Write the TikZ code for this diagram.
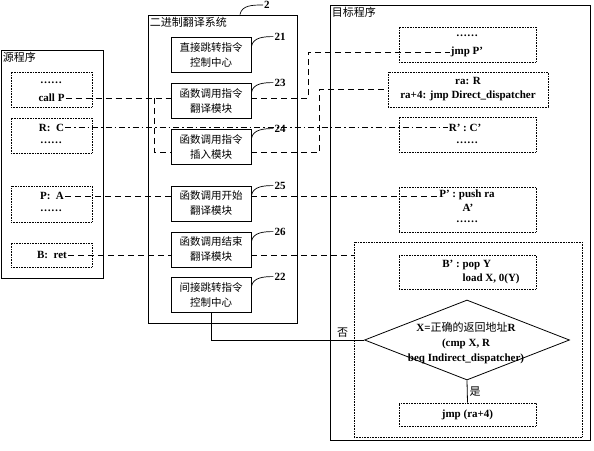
\documentclass[tikz,border=0pt]{standalone}
\usepackage{fontspec}
\setmainfont{Liberation Serif}
\newfontfamily\cjk{Noto Sans CJK SC}
\usetikzlibrary{shapes.geometric,positioning}

\begin{document}
\begin{tikzpicture}[x=1pt,y=-1pt]

		% Define styles
		\tikzstyle{frame} = [rectangle, draw=black, line width=0.9pt]
		\tikzstyle{module} = [
		rectangle, minimum width=80pt, minimum height=35pt,
		draw=black, line width=0.8pt, align=center,
		font=\cjk\fontsize{10.5}{15}\selectfont]
		\tikzstyle{codebox} = [
		rectangle, draw=black, densely dotted, line width=0.6pt,
		minimum width=137pt]
		\tikzstyle{code} = [inner sep=1pt, align=center, font=\fontsize{11}{14}\selectfont\bfseries]
		\tikzstyle{boxtitle} = [anchor=north west, inner sep=2pt, font=\cjk\fontsize{11}{13}\selectfont]
		\tikzstyle{num} = [inner sep=1pt, font=\fontsize{11}{13}\selectfont\bfseries]
		\tikzstyle{leader} = [line width=0.7pt]
		\tikzstyle{link} = [line width=0.7pt, dash pattern=on 6pt off 4pt]
		\tikzstyle{link2} = [line width=0.7pt, dash pattern=on 6pt off 3pt on 1.5pt off 3pt]
		\tikzstyle{decision} = [
		diamond, draw=black, line width=0.8pt,
		minimum width=205pt, minimum height=80pt, inner sep=0pt]

		\useasboundingbox (0,0) rectangle (594,450);

		% Source program
		\node (src) [frame, minimum width=102pt, minimum height=228pt] at (52,164) {};
		\node (srcT) [boxtitle] at (src.north west) {源程序};

		\node (s1) [codebox, minimum width=81pt, minimum height=35pt] at (51.5,89.5) {};
		\node (dots1) [code] at (51,83) {……};
		\node (callP) [code] at (51.5,98) {call P};

		\node (s2) [codebox, minimum width=81pt, minimum height=35pt] at (51.5,135.5) {};
		\node (RC) [code] at (51.5,127.5) {R:\ \ C};
		\node (dots2) [code] at (51,143) {……};

		\node (s3) [codebox, minimum width=81pt, minimum height=36pt] at (51.5,204) {};
		\node (PA) [code] at (52,196) {P:\ \ A};
		\node (dots3) [code] at (51,211) {……};

		\node (s4) [codebox, minimum width=81pt, minimum height=24pt] at (51.5,255) {};
		\node (Bret) [code] at (52,255) {B:\ \ ret};

		% Binary translation system
		\node (sys) [frame, minimum width=149pt, minimum height=308pt] at (222.5,169) {};
		\node (sysT) [boxtitle] at (sys.north west) {二进制翻译系统};

		\node (m21) [module] at (211,54.5) {直接跳转指令\\控制中心};
		\node (m23) [module, below of=m21, node distance=46pt] {函数调用指令\\翻译模块};
		\node (m24) [module, below of=m23, node distance=46pt] {函数调用指令\\插入模块};
		\node (m25) [module, below of=m24, node distance=57pt] {函数调用开始\\翻译模块};
		\node (m26) [module, below of=m25, node distance=46pt] {函数调用结束\\翻译模块};
		\node (m22) [module, below of=m26, node distance=45pt] {间接跳转指令\\控制中心};

		\node (n2) [num, anchor=west] at (263,5) {2};
		\node (n21) [num, right=22pt of m21.north east] {21};
		\node (n23) [num, right=22pt of m23.north east] {23};
		\node (n24) [num, right=22pt of m24.north east] {24};
		\node (n25) [num, right=22pt of m25.north east] {25};
		\node (n26) [num, right=22pt of m26.north east] {26};
		\node (n22) [num, right=22pt of m22.north east] {22};

		% Target program
		\node (tgt) [frame, minimum width=260pt, minimum height=435pt] at (460,222.5) {};
		\node (tgtT) [boxtitle] at (tgt.north west) {目标程序};

		\node (t1) [codebox, minimum height=35pt] at (467.5,44.5) {};
		\node (dots4) [code] at (467,36) {……};
		\node (jmpP) [code] at (467,52) {jmp P’};

		\node (t2) [codebox, code, minimum width=160pt, minimum height=35pt] at (468,89.5) {
			ra: R\\
			ra+4: jmp Direct\_dispatcher
		};

		\node (t3) [codebox, minimum height=35pt] at (467.5,134.5) {};
		\node (RCp) [code] at (465,127.5) {R’\ :\ C’};
		\node (dots5) [code] at (467,143) {……};

		\node (t4) [codebox, minimum height=45pt] at (467.5,209.5) {};
		\node (Pp) [code] at (467,195) {P’\ :\ push ra};
		\node (Ap) [code] at (468,208) {A’};
		\node (dots6) [code] at (467,222) {……};

		\node (t5) [codebox, minimum width=228pt, minimum height=195pt] at (468,339.5) {};

		\node (t6) [codebox, minimum height=34pt] at (467.5,272) {};
		\node (Bp) [code, align=left] at (481,272) {B’\ :\ pop Y\\\phantom{B’\ :\ }load X, 0(Y)};

		\node (dec) [decision] at (467,340) {};
		\node (cond) [code, font=\fontsize{11}{15}\selectfont\bfseries] at (466,343) {
			X={\cjk\mdseries 正确的返回地址}R\\
			(cmp X, R\\
			beq Indirect\_dispatcher)
		};

		\node (t7) [codebox, code, minimum height=23pt] at (467.5,414.5) {jmp (ra+4)};

		% Leaders
		\draw [leader] ([xshift=17.5pt]sys.north) to[out=80,in=180] (n2.west);
		\draw [leader] ([yshift=8pt]m21.east) to[out=80,in=180] (n21.west);
		\draw [leader] ([yshift=8pt]m23.east) to[out=80,in=180] (n23.west);
		\draw [leader] ([yshift=8pt]m24.east) to[out=80,in=180] (n24.west);
		\draw [leader] ([yshift=8pt]m25.east) to[out=80,in=180] (n25.west);
		\draw [leader] ([yshift=8pt]m26.east) to[out=80,in=180] (n26.west);
		\draw [leader] ([yshift=8pt]m22.east) to[out=80,in=180] (n22.west);

		% Connectors
		\path (callP.east -| sys.west) ++(7,0) coordinate (brk);
		\draw [link] (callP.east) -- (callP.east -| m23.west);
		\draw [link] (brk) |- ([yshift=-6pt]m24.west);
		\draw [link] (callP.east -| m23.east) -- ++(57,0) |- (jmpP.west);
		\draw [link] ([yshift=-6pt]m24.east) -- ++(68,0) |- (t2.west);
		\draw [link2] (RC.east) -- (RC.east -| RCp.west);
		\draw [link] (PA.east) -- (PA.east -| m25.west);
		\draw [link] (PA.east -| m25.east) -- (PA.east -| Pp.west);
		\draw [link] (Bret.east) -- (Bret.east -| m26.west);
		\draw [link] (Bret.east -| m26.east) -- (Bret.east -| t5.west);

		\draw [line width=0.8pt] (m22.south) |- node[pos=0.93, above, inner sep=2pt, font=\cjk\fontsize{11}{13}\selectfont] {否} (dec.west);
		\draw [line width=0.8pt] (dec.south) -- node[right, inner sep=2pt, font=\cjk\fontsize{11}{13}\selectfont] {是} (t7.north);
	\end{tikzpicture}
\end{document}
